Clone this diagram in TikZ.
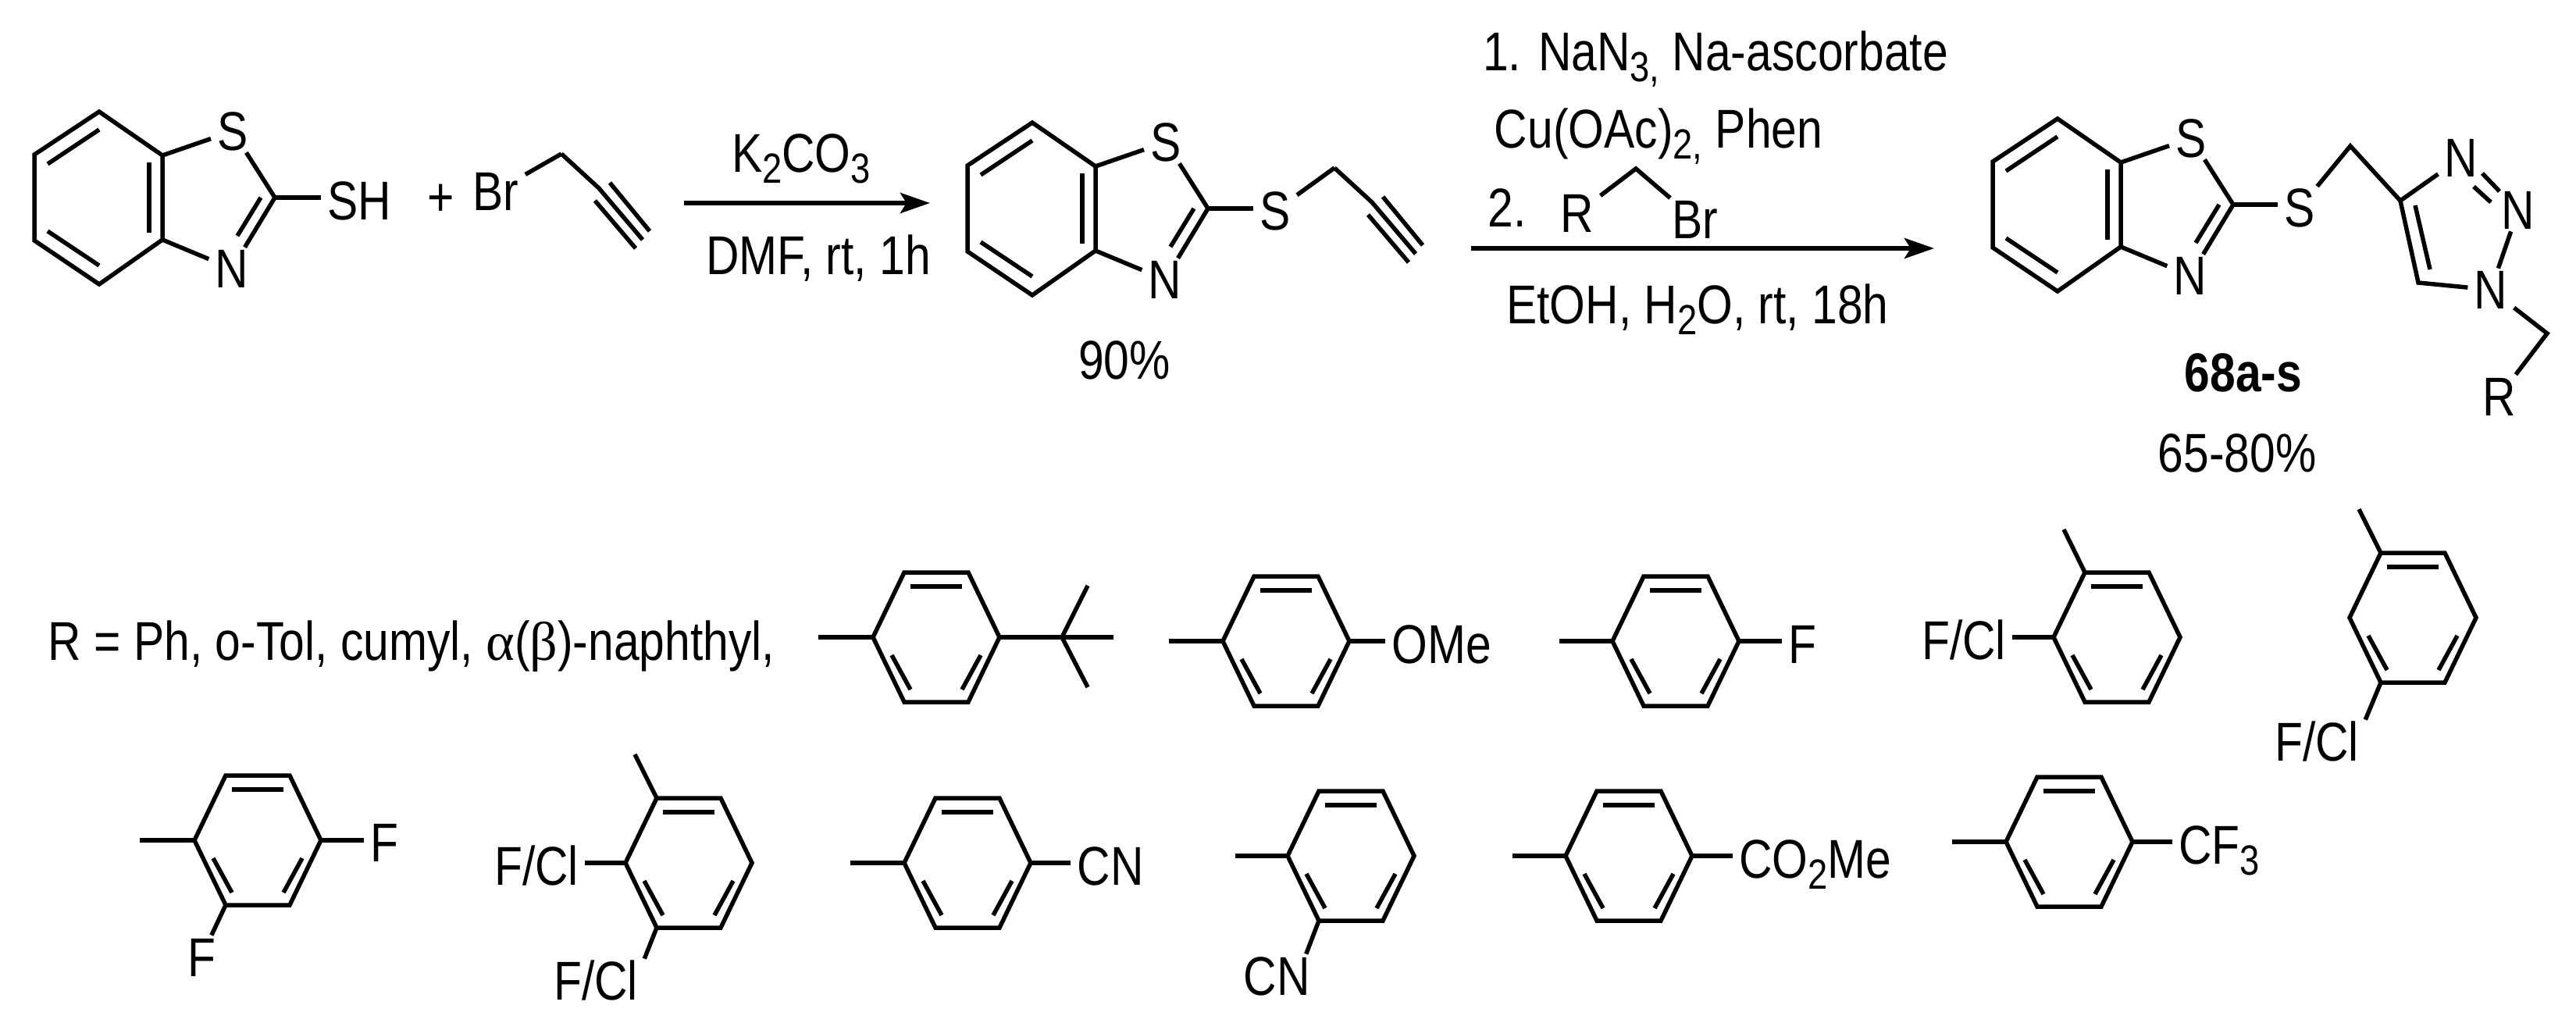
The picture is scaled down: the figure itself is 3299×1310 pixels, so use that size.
\documentclass[tikz,border=0pt]{standalone}
\usepackage{fontspec}
\setmainfont[FakeStretch=0.84]{Liberation Sans}
\newfontfamily\greekfont{Liberation Serif}
\usetikzlibrary{arrows.meta}
\tikzstyle{atom}=[inner xsep=4pt,inner ysep=1pt,text height=25pt,text depth=0pt,font=\fontsize{35}{38}\selectfont]
\tikzstyle{bond}=[line width=2.75pt]
\tikzstyle{reaction}=[line width=3pt,-{Stealth[length=19pt,width=13pt,inset=4pt]}]
\newcommand{\lowered}[1]{\raisebox{-7pt}{\fontsize{27}{27}\selectfont #1}}
\newcommand{\arene}[3]{
\coordinate (#1a) at ({#2-81},#3);
\coordinate (#1b) at ({#2-41},{#3-83});
\coordinate (#1c) at ({#2+41},{#3-83});
\coordinate (#1d) at ({#2+81},#3);
\coordinate (#1e) at ({#2+41},{#3+83});
\coordinate (#1f) at ({#2-41},{#3+83});
\coordinate (#1g) at ({#2-33},{#3-65});
\coordinate (#1h) at ({#2+33},{#3-65});
\coordinate (#1i) at ({#2-57},{#3+23});
\coordinate (#1j) at ({#2-33},{#3+67});
\coordinate (#1k) at ({#2+57},{#3+23});
\coordinate (#1l) at ({#2+33},{#3+67});
\draw [bond] (#1a) -- (#1b) -- (#1c) -- (#1d) -- (#1e) -- (#1f) -- cycle;
\draw [bond] (#1g) -- (#1h);
\draw [bond] (#1i) -- (#1j);
\draw [bond] (#1k) -- (#1l);
}
\newcommand{\benzothiazole}[3]{
\coordinate (#1a) at ({#2+1},{#3-110});
\coordinate (#1b) at ({#2-82},{#3-55});
\coordinate (#1c) at ({#2-82},{#3+55});
\coordinate (#1d) at ({#2+1},{#3+111});
\coordinate (#1e) at ({#2+82},{#3+54});
\coordinate (#1f) at ({#2+82},{#3-54});
\coordinate (#1g) at ({#2-65},{#3-43});
\coordinate (#1h) at ({#2+1},{#3-87});
\coordinate (#1i) at ({#2-65},{#3+43});
\coordinate (#1j) at ({#2+1},{#3+87});
\coordinate (#1k) at ({#2+65},{#3-45});
\coordinate (#1l) at ({#2+65},{#3+45});
\coordinate (#1m) at ({#2+226},#3);
\coordinate (#1o) at ({#2+208},#3);
\coordinate (#1p) at ({#2+178},{#3+49});
\draw ({#2+172},{#3-85}) node [atom] (#1s) {S};
\draw ({#2+171},{#3+91}) node [atom] (#1n) {N};
\draw [bond] (#1a) -- (#1b) -- (#1c) -- (#1d) -- (#1e) -- (#1f) -- cycle;
\draw [bond] (#1g) -- (#1h);
\draw [bond] (#1i) -- (#1j);
\draw [bond] (#1k) -- (#1l);
\draw [bond] (#1f) -- (#1s) -- (#1m) -- (#1n) -- (#1e);
\draw [bond] (#1o) -- (#1p);
}
\newcommand{\propargyl}[3]{
\coordinate (#1a) at (#2,#3);
\coordinate (#1b) at ({#2+48},{#3+44});
\coordinate (#1c) at ({#2+104},{#3+110});
\coordinate (#1d) at ({#2+62},{#3+37});
\coordinate (#1e) at ({#2+113},{#3+99});
\coordinate (#1f) at ({#2+43},{#3+60});
\coordinate (#1g) at ({#2+95},{#3+121});
\draw [bond] (#1a) -- (#1b) -- (#1c);
\draw [bond] (#1d) -- (#1e);
\draw [bond] (#1f) -- (#1g);
}

\begin{document}
\begin{tikzpicture}[x=0.5pt,y=-0.5pt]
\useasboundingbox (0,0) rectangle (3299,1310);
% first line
\benzothiazole{p1}{126}{253}
\draw (460, 257) node [atom] (sh1) {SH};
\draw [bond] (p1m) -- (p1m -| sh1.west);
\draw (565, 252) node [atom] (plus1) {+};
\draw (635, 245) node [atom] (br1) {Br};
\propargyl{y1}{719}{197}
\draw [bond] (br1) -- (y1a);
\coordinate (a1) at (876, 260);
\coordinate (a2) at (1191, 260);
\draw [reaction] (a1) -- (a2);
\draw (1026, 196) node [atom] (k1) {K\lowered{2}CO\lowered{3}};
\draw (1048, 327) node [atom] (k2) {DMF, rt, 1h};
\benzothiazole{p2}{1321}{267}
\draw (1633, 270) node [atom] (s2) {S};
\propargyl{y2}{1709}{215}
\draw [bond] (p2m) -- (p2m -| s2.west);
\draw [bond] (s2) -- (y2a);
\draw (1440, 461) node [atom] (yield2) {90\%};
\coordinate (a3) at (1884, 318);
\coordinate (a4) at (2477, 318);
\draw [reaction] (a3) -- (a4);
\draw (2197, 66) node [atom] (c1) {1. NaN\lowered{3,} Na-ascorbate};
\draw (2124, 165) node [atom] (c2) {Cu(OAc)\lowered{2,} Phen};
\draw (1930, 266) node [atom] (c3) {2.};
\draw (2020, 273) node [atom] (c4) {R};
\draw (2171, 281) node [atom] (c5) {Br};
\coordinate (c6) at (2095, 216);
\draw [bond] (c4) -- (c6) -- (c5);
\draw (2174, 390) node [atom] (c7) {EtOH, H\lowered{2}O, rt, 18h};
\benzothiazole{p3}{2634}{262}
\draw (2945, 266) node [atom] (s3) {S};
\coordinate (m1) at (3010, 187);
\coordinate (m2) at (3074, 257);
\coordinate (m3) at (3097, 362);
\coordinate (m4) at (3093, 263);
\coordinate (m5) at (3112, 345);
\coordinate (m6) at (3262, 427);
\draw (3152, 202) node [atom] (t1) {N};
\draw (3225, 269) node [atom] (t2) {N};
\draw (3190, 371) node [atom] (t3) {N};
\draw (3201, 507) node [atom] (t4) {R};
\coordinate (t5) at (3179, 222);
\coordinate (t6) at (3201, 245);
\coordinate (t7) at (3168, 239);
\coordinate (t8) at (3190, 259);
\draw [bond] (p3m) -- (p3m -| s3.west);
\draw [bond] (s3) -- (m1) -- (m2) -- (t1);
\draw [bond] (t5) -- (t6);
\draw [bond] (t7) -- (t8);
\draw [bond] (t2) -- (t3) -- (m3) -- (m2);
\draw [bond] (m4) -- (m5);
\draw [bond] (t3) -- (m6) -- (t4);
\draw (2873, 477) node [atom] (name3) {\bfseries 68a-s};
\draw (2865, 579) node [atom] (yield3) {65-80\%};
% second line
\draw (527, 820) node [atom] (rlist) {R = Ph, o-Tol, cumyl, {\greekfont α}({\greekfont β})-naphthyl,};
\arene{r1}{1199}{816}
\coordinate (r1m) at (1048, 816);
\coordinate (r1n) at (1360, 816);
\coordinate (r1o) at (1426, 816);
\coordinate (r1p) at (1393, 750);
\coordinate (r1q) at (1393, 880);
\draw [bond] (r1m) -- (r1a);
\draw [bond] (r1d) -- (r1o);
\draw [bond] (r1p) -- (r1n) -- (r1q);
\arene{r2}{1647}{821}
\coordinate (r2m) at (1497, 821);
\draw (1846, 824) node [atom] (r2x) {OMe};
\draw [bond] (r2m) -- (r2a);
\draw [bond] (r2d) -- (r2d -| r2x.west);
\arene{r3}{2146}{821}
\coordinate (r3m) at (1997, 821);
\draw (2308, 824) node [atom] (r3x) {F};
\draw [bond] (r3m) -- (r3a);
\draw [bond] (r3d) -- (r3d -| r3x.west);
\arene{r4}{2711}{816}
\coordinate (r4m) at (2643, 678);
\draw (2515, 819) node [atom] (r4x) {F/Cl};
\draw [bond] (r4m) -- (r4b);
\draw [bond] (r4a) -- (r4a -| r4x.east);
\arene{r5}{3090}{791}
\coordinate (r5m) at (3021, 652);
\draw (2967, 949) node [atom] (r5x) {F/Cl};
\draw [bond] (r5m) -- (r5b);
\draw [bond] (r5f) -- (r5x.north east);
% third line
\arene{r6}{330}{1076}
\coordinate (r6m) at (179, 1076);
\draw (492, 1078) node [atom] (r6x) {F};
\draw (258, 1225) node [atom] (r6y) {F};
\draw [bond] (r6m) -- (r6a);
\draw [bond] (r6d) -- (r6d -| r6x.west);
\draw [bond] (r6f) -- (r6y);
\arene{r7}{882}{1105}
\coordinate (r7m) at (813, 966);
\draw (687, 1108) node [atom] (r7x) {F/Cl};
\draw (763, 1255) node [atom] (r7y) {F/Cl};
\draw [bond] (r7m) -- (r7b);
\draw [bond] (r7a) -- (r7a -| r7x.east);
\draw [bond] (r7f) -- (r7y.north east);
\arene{r8}{1239}{1105}
\coordinate (r8m) at (1089, 1105);
\draw (1422, 1108) node [atom] (r8x) {CN};
\draw [bond] (r8m) -- (r8a);
\draw [bond] (r8d) -- (r8d -| r8x.west);
\arene{r9}{1730}{1096}
\coordinate (r9m) at (1582, 1096);
\draw (1635, 1249) node [atom] (r9x) {CN};
\draw [bond] (r9m) -- (r9a);
\draw [bond] (r9f) -- (r9x.36);
\arene{r10}{2086}{1096}
\coordinate (r10m) at (1937, 1096);
\draw (2325, 1099) node [atom] (r10x) {CO\lowered{2}Me};
\draw [bond] (r10m) -- (r10a);
\draw [bond] (r10d) -- (r10d -| r10x.west);
\arene{r11}{2650}{1078}
\coordinate (r11m) at (2500, 1078);
\draw (2842, 1081) node [atom] (r11x) {CF\lowered{3}};
\draw [bond] (r11m) -- (r11a);
\draw [bond] (r11d) -- (r11d -| r11x.west);
\end{tikzpicture}
\end{document}
